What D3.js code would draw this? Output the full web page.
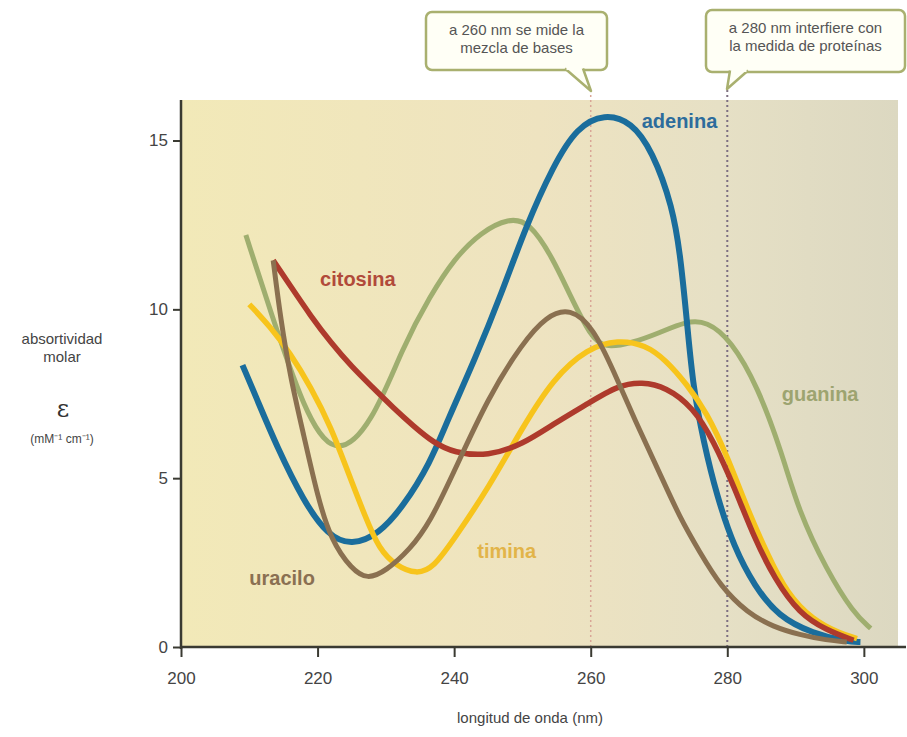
<!DOCTYPE html>
<html>
<head>
<meta charset="utf-8">
<script src="https://cdn.jsdelivr.net/npm/d3@7"></script>
<style>
  body { margin: 0; background: #fff; }
  svg { display: block; }
  text { font-family: "Liberation Sans", Arial, sans-serif; }
</style>
</head>
<body>
<div id="chart"></div>
<script>
// wavelength (nm) / absorptivity pairs
const adenina = [
  [209, 8.35], [211, 7.4], [214, 5.95], [218, 4.3], [221.5, 3.3], [225, 3.0], [229, 3.35],
  [232.5, 4.15], [236.5, 5.45], [239, 6.7], [243, 8.5], [247, 10.5], [250.5, 12.45],
  [254.5, 14.25], [258, 15.4], [262, 15.8], [266, 15.55], [269, 14.7], [272, 13.05],
  [273.2, 11.5], [274.2, 9.4], [275, 7.7], [276.5, 6.1], [278.5, 4.45], [281, 2.95],
  [284, 1.8], [287.5, 0.9], [292.5, 0.4], [297.5, 0.16], [299.5, 0.15]
];
const guanina = [
  [209.5, 12.2], [213, 10.0], [218, 7.0], [222.5, 5.55], [228, 6.6], [232.5, 8.9],
  [236.5, 10.4], [240, 11.5], [244, 12.3], [248, 12.7], [251, 12.6], [254.5, 11.5],
  [257, 10.4], [260, 9.2], [262, 8.85], [266, 9.0], [270, 9.3], [274, 9.65], [277, 9.65],
  [280.5, 9.1], [284.5, 7.7], [288, 5.75], [290.5, 4.0], [294.5, 2.3], [298.5, 1.0], [301, 0.55]
];
const citosina = [
  [213.5, 11.45], [216, 10.7], [219, 9.8], [222, 9.0], [225, 8.3], [228, 7.7], [231, 7.1],
  [234, 6.55], [237, 6.05], [240, 5.75], [245, 5.65], [250, 6.0], [254.5, 6.6], [259.5, 7.2],
  [264, 7.75], [267.5, 7.85], [271, 7.7], [275, 7.1], [278, 6.1], [281, 4.75], [284, 3.2],
  [287, 2.0], [290.5, 1.0], [294.5, 0.5], [298.5, 0.2]
];
const timina = [
  [210, 10.15], [213, 9.5], [216, 8.7], [219, 7.7], [222, 6.5], [224.5, 5.15], [227, 3.85],
  [229, 2.9], [231.5, 2.4], [234.5, 2.15], [237, 2.35], [240, 3.2], [245, 4.7], [250, 6.5],
  [254.5, 7.95], [259.5, 8.85], [264, 9.1], [268, 8.95], [271, 8.5], [274, 7.8], [277, 6.95],
  [280, 5.65], [283, 4.05], [286, 2.7], [288.7, 1.6], [292.5, 0.8], [296.5, 0.4], [299, 0.25]
];
const uracilo = [
  [213.5, 11.45], [214.6, 9.7], [216, 8.0], [218, 6.25], [220, 4.45], [222, 3.15], [225, 2.3],
  [227.3, 2.0], [230, 2.25], [233.5, 2.88], [236.5, 3.7], [240, 5.2], [245, 7.4], [250, 9.0],
  [253.5, 9.8], [257, 10.05], [260.4, 9.45], [263.3, 8.2], [266.5, 6.7], [270, 5.2],
  [273, 3.85], [276, 2.8], [279, 1.8], [283, 1.0], [286.7, 0.6], [290.6, 0.36], [294.6, 0.2], [297.5, 0.15]
];

const xTicks = [200, 220, 240, 260, 280, 300];
const yTicks = [0, 5, 10, 15];
const markers = [260, 280];

const width = 907;
const height = 737;

const svg = d3.select("#chart").append("svg")
  .attr("width", width)
  .attr("height", height);

const x = d3.scaleLinear().domain([200, 305]).range([181, 898]);
const y = d3.scaleLinear().domain([0, 16.2]).range([647, 100]);

// plot background gradient
const defs = svg.append("defs");
const grad = defs.append("linearGradient").attr("id", "bg").attr("x1", "0").attr("x2", "1");
grad.append("stop").attr("offset", "0%").attr("stop-color", "#f2e9b8");
grad.append("stop").attr("offset", "50%").attr("stop-color", "#eee3c0");
grad.append("stop").attr("offset", "75%").attr("stop-color", "#e6e0c5");
grad.append("stop").attr("offset", "100%").attr("stop-color", "#dcd8c1");

svg.append("rect")
  .attr("x", x(200)).attr("y", y(16.2))
  .attr("width", x(305) - x(200)).attr("height", y(0) - y(16.2))
  .attr("fill", "url(#bg)");

// dotted marker lines at 260 and 280 nm
svg.selectAll(".marker")
  .data(markers)
  .enter().append("line")
  .attr("x1", d => x(d)).attr("x2", d => x(d))
  .attr("y1", 90).attr("y2", y(0))
  .attr("stroke", (d, i) => i === 0 ? "#d9a596" : "#7d6f82")
  .attr("stroke-width", (d, i) => i === 0 ? 1.5 : 2)
  .attr("stroke-dasharray", "2,3");

// curves
const line = d3.line()
  .x(d => x(d[0]))
  .y(d => y(d[1]))
  .curve(d3.curveBasis);

const series = [
  { name: "guanina", data: guanina, color: "#9fae6f", w: 5 },
  { name: "adenina", data: adenina, color: "#1a6d9c", w: 6 },
  { name: "timina", data: timina, color: "#f7c41c", w: 5.5 },
  { name: "citosina", data: citosina, color: "#ae3a2c", w: 5.5 },
  { name: "uracilo", data: uracilo, color: "#8a7050", w: 5 }
];

svg.selectAll(".curve")
  .data(series)
  .enter().append("path")
  .attr("d", d => line(d.data))
  .attr("fill", "none")
  .attr("stroke", d => d.color)
  .attr("stroke-width", d => d.w)
  .attr("stroke-linejoin", "round");

// curve labels
const labels = [
  { text: "adenina", nm: 273, v: 15.37, color: "#2d6c9c" },
  { text: "citosina", nm: 225.9, v: 10.7, color: "#b14a3a" },
  { text: "guanina", nm: 293.6, v: 7.3, color: "#9da470" },
  { text: "timina", nm: 247.7, v: 2.64, color: "#e2b449" },
  { text: "uracilo", nm: 214.8, v: 1.84, color: "#8a7052" }
];
svg.selectAll(".lab")
  .data(labels)
  .enter().append("text")
  .attr("x", d => x(d.nm))
  .attr("y", d => y(d.v))
  .attr("text-anchor", "middle")
  .attr("font-size", 20)
  .attr("font-weight", "bold")
  .attr("fill", d => d.color)
  .text(d => d.text);

// axes
svg.append("line")
  .attr("x1", x(200)).attr("x2", x(200))
  .attr("y1", y(16.2)).attr("y2", y(0) + 2)
  .attr("stroke", "#3a3a32").attr("stroke-width", 2.5);
svg.append("line")
  .attr("x1", x(200) - 1).attr("x2", 906)
  .attr("y1", y(0)).attr("y2", y(0))
  .attr("stroke", "#3a3a32").attr("stroke-width", 2.5);

const xAxis = svg.append("g")
  .attr("transform", `translate(0,${y(0)})`)
  .call(d3.axisBottom(x).tickValues(xTicks).tickSize(10).tickPadding(15).tickFormat(d3.format("d")));
xAxis.select(".domain").remove();
xAxis.selectAll("line").attr("stroke", "#3a3a32").attr("stroke-width", 2);
xAxis.selectAll("text").attr("font-size", 17).attr("fill", "#444").style("font-family", null);

const yAxis = svg.append("g")
  .attr("transform", `translate(${x(200)},0)`)
  .call(d3.axisLeft(y).tickValues(yTicks).tickSize(8).tickPadding(5).tickFormat(d3.format("d")));
yAxis.select(".domain").remove();
yAxis.selectAll("line").attr("stroke", "#3a3a32").attr("stroke-width", 2);
yAxis.selectAll("text").attr("font-size", 17).attr("fill", "#444").style("font-family", null);

// axis titles
svg.append("text")
  .attr("x", 530).attr("y", 723)
  .attr("text-anchor", "middle")
  .attr("font-size", 15).attr("fill", "#444")
  .text("longitud de onda (nm)");

const yTitle = svg.append("g").attr("fill", "#444").attr("text-anchor", "middle");
yTitle.append("text").attr("x", 62).attr("y", 344).attr("font-size", 15).text("absortividad");
yTitle.append("text").attr("x", 62).attr("y", 362).attr("font-size", 15).text("molar");
yTitle.append("text").attr("x", 63).attr("y", 417).attr("font-size", 24).attr("fill", "#333")
  .style("font-family", "DejaVu Serif, serif").text("ε");
yTitle.append("text").attr("x", 62).attr("y", 443).attr("font-size", 12).text("(mM⁻¹ cm⁻¹)");

// callout boxes
const callouts = [
  { lines: ["a 260 nm se mide la", "mezcla de bases"], x0: 426, x1: 607, y0: 12, y1: 70,
    tail: [[565, 70], [583, 70], [591, 91]] },
  { lines: ["a 280 nm interfiere con", "la medida de proteínas"], x0: 706, x1: 905, y0: 10, y1: 72,
    tail: [[730, 72], [748, 72], [727, 89]] }
];
const cg = svg.selectAll(".callout").data(callouts).enter().append("g");
cg.append("rect")
  .attr("x", d => d.x0).attr("y", d => d.y0)
  .attr("width", d => d.x1 - d.x0).attr("height", d => d.y1 - d.y0)
  .attr("rx", 6)
  .attr("fill", "#fffff6").attr("stroke", "#a9b06f").attr("stroke-width", 2.5);
cg.append("path")
  .attr("d", d => `M${d.tail[0][0]},${d.tail[0][1] - 1.5}L${d.tail[2][0]},${d.tail[2][1]}L${d.tail[1][0]},${d.tail[1][1] - 1.5}`)
  .attr("fill", "#fffff6").attr("stroke", "#a9b06f").attr("stroke-width", 2.5).attr("stroke-linejoin", "round");
cg.append("line")
  .attr("x1", d => d.tail[0][0] + 1.5).attr("x2", d => d.tail[1][0] - 1.5)
  .attr("y1", d => d.y1 - 1.3).attr("y2", d => d.y1 - 1.3)
  .attr("stroke", "#fffff6").attr("stroke-width", 2.5);
cg.each(function (d) {
  const g = d3.select(this);
  d.lines.forEach((t, i) => {
    g.append("text")
      .attr("x", (d.x0 + d.x1) / 2)
      .attr("y", d.y0 + 23 + i * 18)
      .attr("text-anchor", "middle")
      .attr("font-size", 15).attr("fill", "#555")
      .text(t);
  });
});
</script>
</body>
</html>
